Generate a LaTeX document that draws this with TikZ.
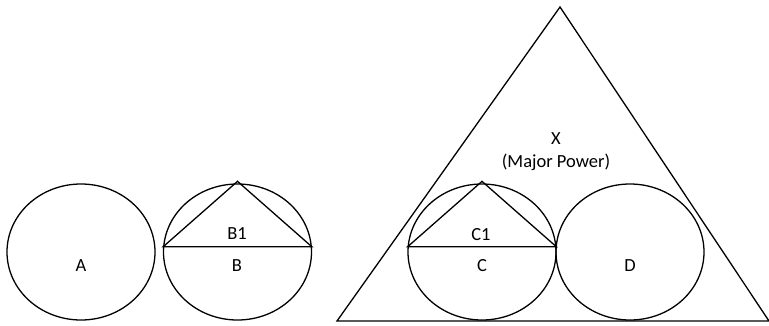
\documentclass[tikz,border=0pt]{standalone}
\usepackage{fontspec}
\setmainfont{Carlito}
\usetikzlibrary{shapes.geometric}

\begin{document}
\begin{tikzpicture}[
            x=1pt, y=-1pt,
            font=\fontsize{18.5}{23}\selectfont,
            every node/.style={align=center},
            region/.style={draw, ellipse, line width=1.3pt, minimum width=148pt, minimum height=136pt, inner sep=0pt},
            outline/.style={line width=1.3pt, line join=miter}
        ]
        \useasboundingbox (0,0) rectangle (769,325);

        % Vertical placement
        \def\yc{252}      % centre of the circles
        \def\ylab{266}    % row of the circle labels

        % --- Major power triangle ---
        \coordinate (xtop) at (560,7);
        \coordinate (xleft) at (337,321);
        \coordinate (xright) at (769,321);
        \draw[outline] (xtop) -- (xleft) -- (xright) -- cycle;
        \node (xlab) at (556,152) {X\\(Major Power)};

        % --- Circles ---
        \node[region] (A) at (81,\yc) {};
        \node[region] (B) at (237.5,\yc) {};
        \node[region] (C) at (482,\yc) {};
        \node[region] (D) at (630,\yc) {};

        % --- Inner triangles ---
        \draw[outline] (B.176) -- (B.4) -- ([yshift=2pt]B.north) -- cycle;
        \draw[outline] (C.176) -- (C.4) -- ([yshift=2pt]C.north) -- cycle;

        % --- Labels ---
        \node (labA) at (81,\ylab) {A};
        \node (labB) at (237,\ylab) {B};
        \node (labBI) at (237,234) {B1};
        \node (labC) at (482,\ylab) {C};
        \node (labCI) at (481,235) {C1};
        \node (labD) at (630,\ylab) {D};

\end{tikzpicture}
\end{document}
